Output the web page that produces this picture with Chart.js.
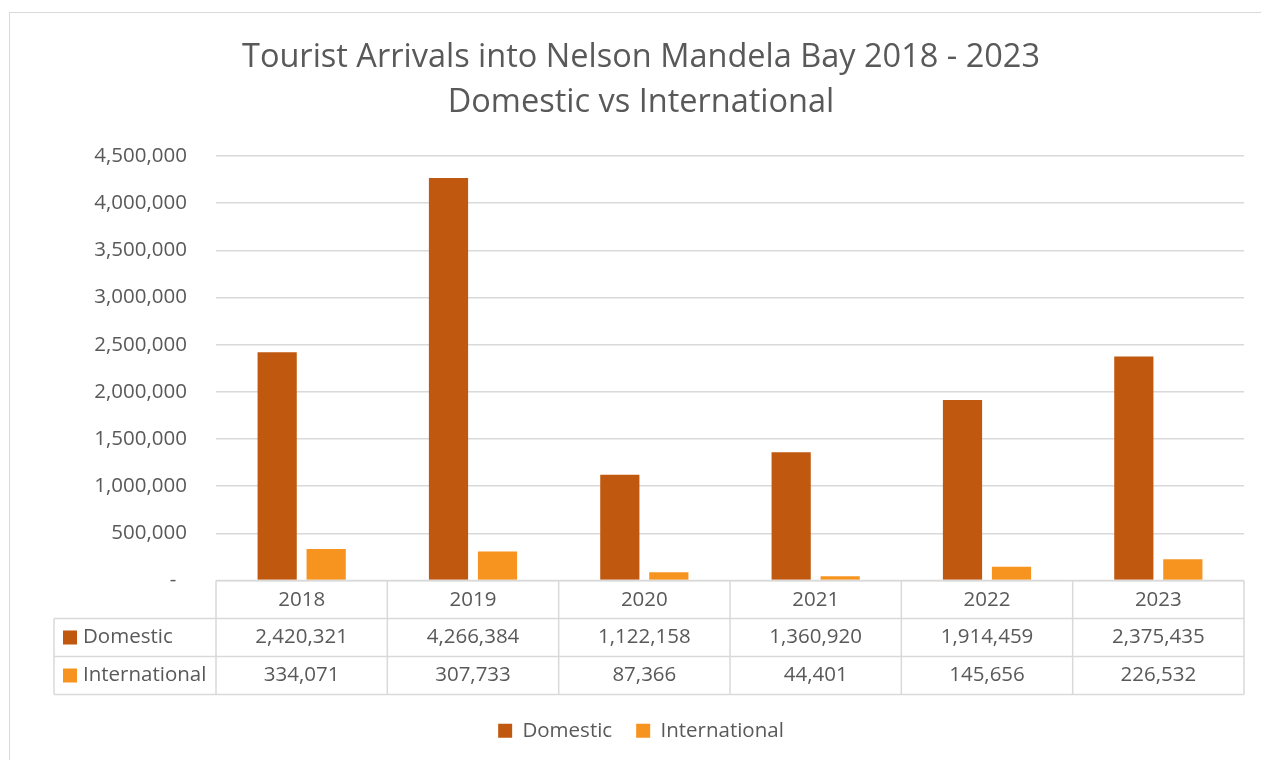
<!DOCTYPE html>
<html>
<head>
<meta charset="utf-8">
<title>Tourist Arrivals into Nelson Mandela Bay</title>
<script src="https://cdn.jsdelivr.net/npm/chart.js@4.4.0/dist/chart.umd.min.js"></script>
<style>
    body { margin: 0; background: #fff; overflow: hidden; }
    .frame { position: absolute; left: 9px; top: 12px; width: 1270px; height: 770px; border: 1px solid #d9d9d9; }
    .chart-box { position: absolute; left: 0; top: 0; width: 1261px; height: 760px; }
</style>
</head>
<body>
<div class="frame"></div>
<div class="chart-box"><canvas id="arrivalsChart"></canvas></div>
<script>
// Chart data
var years = ['2018', '2019', '2020', '2021', '2022', '2023'];
var domestic = [2420321, 4266384, 1122158, 1360920, 1914459, 2375435];
var international = [334071, 307733, 87366, 44401, 145656, 226532];
var yTicks = [0, 500000, 1000000, 1500000, 2000000, 2500000, 3000000, 3500000, 4000000, 4500000];

var textColor = '#595959';
var lineColor = '#d9d9d9';
var fontFamily = '"Open Sans", "Noto Sans", sans-serif';

function fmt(v) {
    return v.toLocaleString('en-US');
}

// Draws the Excel-style data table under the plot area
var dataTablePlugin = {
    id: 'dataTable',
    afterDraw: function(chart) {
        var ctx = chart.ctx;
        var area = chart.chartArea;
        var catW = (area.right - area.left) / years.length;
        var rowH = 38;
        var top = area.bottom;
        var tableLeft = 54;
        var bottom = top + rowH * 3;

        ctx.save();
        ctx.strokeStyle = lineColor;
        ctx.lineWidth = 1.5;
        ctx.beginPath();
        // horizontal lines
        ctx.moveTo(area.left, top);
        ctx.lineTo(area.right, top);
        for (var r = 1; r <= 3; r++) {
            ctx.moveTo(tableLeft, top + rowH * r);
            ctx.lineTo(area.right, top + rowH * r);
        }
        // vertical lines
        ctx.moveTo(tableLeft, top + rowH);
        ctx.lineTo(tableLeft, bottom);
        for (var i = 0; i <= years.length; i++) {
            var vx = area.left + catW * i;
            ctx.moveTo(vx, top);
            ctx.lineTo(vx, bottom);
        }
        ctx.stroke();

        ctx.font = '20.5px ' + fontFamily;
        ctx.textBaseline = 'middle';
        chart.data.datasets.forEach(function(ds, d) {
            var cy = top + rowH * (d + 1) + rowH / 2;
            ctx.fillStyle = ds.backgroundColor;
            ctx.fillRect(63, cy - 7, 14, 14);
            ctx.fillStyle = textColor;
            ctx.textAlign = 'left';
            ctx.fillText(ds.label, 83, cy);
            ctx.textAlign = 'center';
            ds.data.forEach(function(v, i) {
                ctx.fillText(fmt(v), area.left + catW * (i + 0.5), cy);
            });
        });
        ctx.restore();
    }
};

var ctx = document.getElementById('arrivalsChart').getContext('2d');
var arrivalsChart = new Chart(ctx, {
    type: 'bar',
    data: {
        labels: years,
        datasets: [{
            label: 'Domestic',
            data: domestic,
            backgroundColor: '#C0590F',
            categoryPercentage: 0.572,
            barPercentage: 0.8
        }, {
            label: 'International',
            data: international,
            backgroundColor: '#F7941F',
            categoryPercentage: 0.572,
            barPercentage: 0.8
        }]
    },
    options: {
        responsive: true,
        maintainAspectRatio: false,
        animation: false,
        layout: {
            padding: { left: 38, right: 17, top: 0, bottom: 9 }
        },
        plugins: {
            title: {
                display: true,
                text: ['Tourist Arrivals into Nelson Mandela Bay 2018 - 2023', 'Domestic vs International'],
                color: textColor,
                font: { family: fontFamily, size: 32.5, weight: 'normal', lineHeight: 1.385 },
                padding: { top: 35, bottom: 31 }
            },
            legend: {
                position: 'bottom',
                labels: {
                    color: textColor,
                    boxWidth: 14,
                    boxHeight: 14,
                    padding: 24,
                    font: { family: fontFamily, size: 20.5 }
                }
            },
            tooltip: { enabled: false }
        },
        scales: {
            x: {
                grid: { display: false, drawTicks: false },
                border: { display: false },
                ticks: {
                    color: textColor,
                    padding: 7,
                    font: { family: fontFamily, size: 20.5 }
                },
                afterFit: function(scale) {
                    scale.height = 116;
                }
            },
            y: {
                min: 0,
                max: 4500000,
                afterBuildTicks: function(scale) {
                    scale.ticks = yTicks.map(function(v) { return { value: v }; });
                },
                grid: { color: lineColor, lineWidth: 1.5, drawTicks: false },
                border: { display: false },
                ticks: {
                    color: textColor,
                    padding: 29,
                    font: { family: fontFamily, size: 20.5 },
                    callback: function(v) { return v === 0 ? '-  ' : fmt(v); }
                },
                afterFit: function(scale) {
                    scale.width = 178;
                }
            }
        }
    },
    plugins: [dataTablePlugin]
});
</script>
</body>
</html>
